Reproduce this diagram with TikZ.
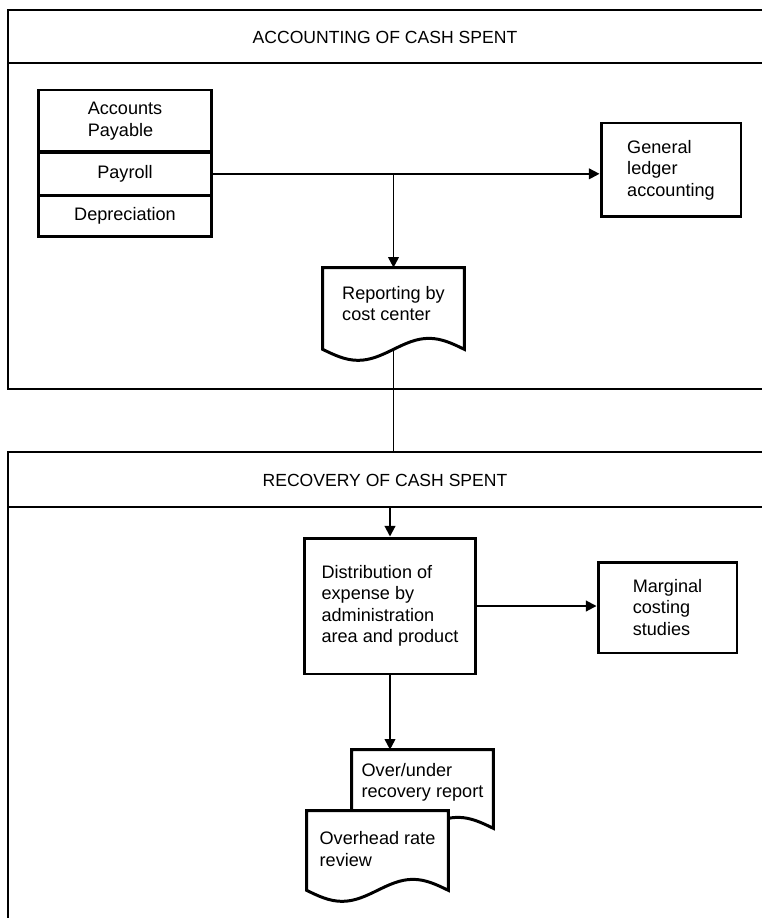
\documentclass[tikz,border=0pt]{standalone}
\usepackage{fontspec}
\setmainfont{Liberation Sans}
\usepackage{tikz}
\usetikzlibrary{positioning, arrows.meta, calc, backgrounds}

\tikzset{
  panel/.style={line width=0.85pt},
  box/.style={draw, line width=1.7pt, align=left, inner sep=0pt},
  docnode/.style={align=left, inner sep=0pt, minimum width=2.82cm},
  docline/.style={draw, fill=white, line width=1.7pt},
  link/.style={line width=1.1pt},
  flow/.style={link, -{Triangle[length=6pt, width=6pt]}},
}

% document symbol drawn behind a text node, #2 = drop of the wavy edge
\newcommand\docoutline[2]{%
  \begin{scope}[on background layer]
    \path[docline] let \p1=(#1.north west), \p2=(#1.south east),
      \n1={(\x2-\x1)/4} in
      (\x1,\y1) -- (\x1,\y2-#2) sin ++(\n1,-0.22cm) cos ++(\n1,0.22cm)
      sin ++(\n1,0.22cm) cos ++(\n1,-0.22cm) -- (\x2,\y1) -- cycle;
  \end{scope}}

\begin{document}
\begin{tikzpicture}[x=0.02cm, y=-0.02cm, font=\fontsize{10.3}{12.2}\selectfont]
  \useasboundingbox (0,0) rectangle (762,918);

  % accounting panel
  \draw[panel] (762,10) -- (8,10) -- (8,389) -- (762,389);
  \draw[panel] (8,63) -- (762,63);
  \node[font=\fontsize{10}{12}\selectfont] (acctitle) at (385,37) {ACCOUNTING OF CASH SPENT};

  \node[box, minimum width=3.48cm, minimum height=1.24cm] (ap) at (125,121) {Accounts\\Payable};
  \node[box, minimum width=3.48cm, minimum height=0.86cm, below=-1.5pt of ap] (pr) {Payroll};
  \node[box, minimum width=3.48cm, minimum height=0.82cm, below=-1.5pt of pr] (dp) {Depreciation};

  \node[box, minimum width=2.8cm, minimum height=1.88cm] (gl) at (671,170) {General\\ledger\\accounting};
  \draw[flow] (pr.east) -- (pr.east -| gl.west);

  \node[docnode, minimum height=1.42cm] (rep) at (393.5,303.5) {Reporting by\\cost center};
  \docoutline{rep}{0.2cm}
  \coordinate (split) at (rep.north |- pr.east);
  \draw[flow] (split) -- (rep.north);

  % recovery panel
  \draw[panel] (8,918) -- (8,452) coordinate (p2top) -- (762,452);
  \draw[panel] (8,507) coordinate (p2sep) -- (762,507);
  \node[font=\fontsize{10}{12}\selectfont] (rectitle) at (385,480) {RECOVERY OF CASH SPENT};
  \draw[link] ([yshift=-0.2cm]rep.south) -- (rep.south |- p2top);

  \node[box, minimum width=3.44cm, minimum height=2.72cm] (dist) at (390,606)
    {Distribution of\\expense by\\administration\\area and product};
  \draw[flow] (dist.north |- p2sep) -- (dist.north);

  \node[box, minimum width=2.78cm, minimum height=1.82cm] (marg) at (667.5,607.5) {Marginal\\costing\\studies};
  \draw[flow] (dist.east) -- (dist.east -| marg.west);

  \node[docnode, minimum height=1.3cm] (over) at (422.5,782.5) {Over/under\\recovery report};
  \node[docnode, minimum height=1.52cm] (ohead) at (377.5,849) {Overhead rate\\review};
  \docoutline{over}{0.26cm}
  \docoutline{ohead}{0.06cm}
  \draw[flow] (dist.south) -- (dist.south |- over.north);
\end{tikzpicture}
\end{document}
